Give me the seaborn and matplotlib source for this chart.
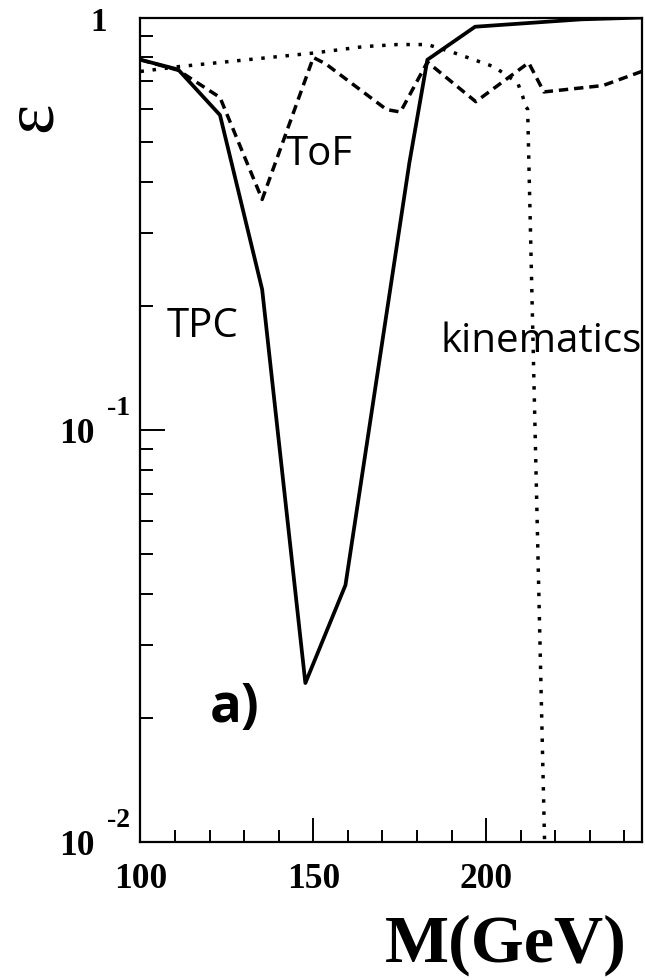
import matplotlib
matplotlib.use("Agg")
import matplotlib.pyplot as plt
from matplotlib.ticker import FixedLocator, MultipleLocator, NullFormatter
import seaborn as sns

# Efficiency versus mass for the three selection cuts
tpc_mass = [100, 110.9, 123.0, 135.2, 147.7, 159.3, 177.8, 183.0, 196.8, 227.5, 245]
tpc_eff = [0.79, 0.748, 0.58, 0.219, 0.0243, 0.042, 0.445, 0.79, 0.95, 0.99, 1.0]

tof_mass = [100, 110.9, 123.0, 135.2, 150.0, 153.5, 171.2, 175.2, 183.0, 197.0,
            212.3, 216.7, 233.8, 245]
tof_eff = [0.79, 0.745, 0.64, 0.362, 0.80, 0.773, 0.598, 0.59, 0.78, 0.625,
           0.777, 0.66, 0.684, 0.74]

kin_mass = [100, 110.9, 150.0, 164.5, 174.3, 183.0, 190.6, 202.2, 209.1, 210.6,
            211.4, 212.0, 217.2]
kin_eff = [0.74, 0.76, 0.82, 0.85, 0.86, 0.86, 0.822, 0.76, 0.695, 0.643,
           0.608, 0.60, 0.0078]

x_major = [100, 150, 200]
x_labels = ["100", "150", "200"]

sns.set_style("white")
plt.rcParams["font.family"] = ["Open Sans", "DejaVu Sans"]
plt.rcParams["text.color"] = "black"
plt.rcParams["xtick.color"] = "black"
plt.rcParams["ytick.color"] = "black"

fig = plt.figure(figsize=(6.45, 9.8), dpi=100)
ax = fig.add_axes([0.2178, 0.1408, 0.7771, 0.8413])

sns.lineplot(x=tpc_mass, y=tpc_eff, ax=ax, color="black", lw=2.7,
             estimator=None, sort=False)
sns.lineplot(x=tof_mass, y=tof_eff, ax=ax, color="black", lw=2.5,
             estimator=None, sort=False)
ax.lines[-1].set_dashes((2.7, 1.7))
sns.lineplot(x=kin_mass, y=kin_eff, ax=ax, color="black", lw=2.5,
             estimator=None, sort=False)
ax.lines[-1].set_dashes((1.0, 2.5))

ax.set_yscale("log")
ax.set_xlim(100, 245)
ax.set_ylim(0.01, 1.0)

# axis ticks: inward, on left and bottom only
ax.xaxis.set_major_locator(FixedLocator(x_major))
ax.xaxis.set_minor_locator(MultipleLocator(10))
ax.set_xticklabels(x_labels)
ax.yaxis.set_major_locator(FixedLocator([0.01, 0.1, 1.0]))
minor_y = [m * d for d in (0.01, 0.1) for m in range(2, 10)]
ax.yaxis.set_minor_locator(FixedLocator(minor_y))
ax.yaxis.set_major_formatter(NullFormatter())
ax.yaxis.set_minor_formatter(NullFormatter())

ax.tick_params(axis="x", which="major", direction="in", length=17, width=1.4,
               bottom=True, top=False, pad=15)
ax.tick_params(axis="x", which="minor", direction="in", length=8.6, width=1.4,
               bottom=True, top=False)
ax.tick_params(axis="y", which="major", direction="in", length=18, width=1.4,
               left=True, right=False)
ax.tick_params(axis="y", which="minor", direction="in", length=9.4, width=1.4,
               left=True, right=False)
for lab in ax.get_xticklabels():
    lab.set_fontfamily("Liberation Serif")
    lab.set_fontweight("bold")
    lab.set_fontsize(25.5)
    lab.set_color("black")

for side in ["left", "bottom", "right", "top"]:
    ax.spines[side].set_visible(True)
    ax.spines[side].set_color("black")
    ax.spines[side].set_linewidth(1.6)
ax.set_xlabel("")
ax.set_ylabel("")

serif_bold = dict(family="Liberation Serif", weight="bold", color="black")
ytr = ax.get_yaxis_transform()
ax.annotate("1", xy=(0, 1.0), xycoords=ytr, xytext=(-30, -10),
            textcoords="offset points", ha="center", va="baseline",
            fontsize=24, annotation_clip=False, **serif_bold)
for val, expo in [(0.1, "-1"), (0.01, "-2")]:
    ax.annotate("10", xy=(0, val), xycoords=ytr, xytext=(-33, -9.4),
                textcoords="offset points", ha="right", va="baseline",
                fontsize=25.5, annotation_clip=False, **serif_bold)
    ax.annotate(expo, xy=(0, val), xycoords=ytr, xytext=(-24, 11),
                textcoords="offset points", ha="left", va="baseline",
                fontsize=20, annotation_clip=False, **serif_bold)

# curve labels
label_font = ["Open Sans", "DejaVu Sans"]
ax.text(141.9, 0.44, "ToF", fontsize=29, ha="left", va="baseline",
        family=label_font, color="black")
ax.text(107.7, 0.168, "TPC", fontsize=29, ha="left", va="baseline",
        family=label_font, color="black")
ax.text(186.8, 0.154, "kinematics", fontsize=29, ha="left", va="baseline",
        family=label_font, color="black")
ax.text(120.1, 0.0196, "a)", fontsize=38, fontweight="bold", ha="left",
        va="baseline", family=label_font, color="black")

fig.text(627 / 645, 1 - 962 / 980, "M(GeV)", ha="right", va="baseline",
         fontsize=49, **serif_bold)
fig.text(33 / 645, 1 - 117 / 980, "\u03b5", ha="center", va="center",
         rotation=90, fontsize=52, family="Liberation Serif", color="black")

fig.savefig("out.png", dpi=100)
